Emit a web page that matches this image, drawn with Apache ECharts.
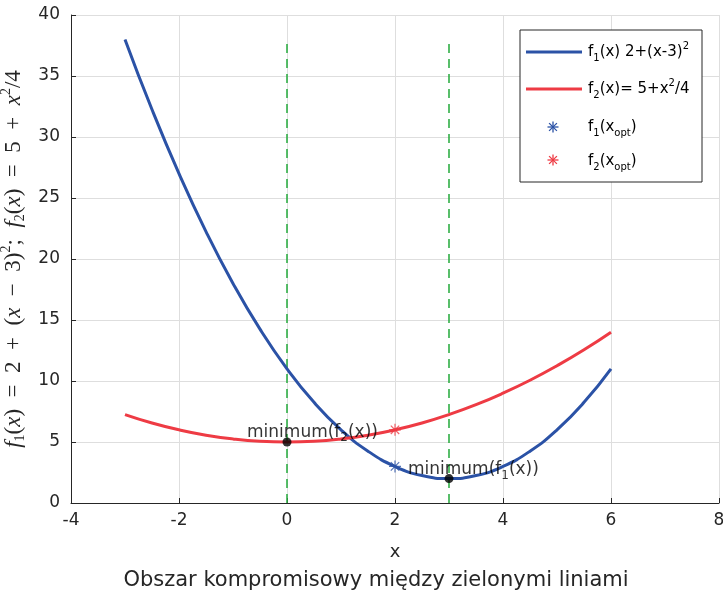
<!DOCTYPE html>
<html>
<head>
<meta charset="utf-8">
<script src="https://cdn.jsdelivr.net/npm/echarts@6/dist/echarts.min.js"></script>
<style>html,body{margin:0;padding:0;background:#fff}#c{width:723px;height:596px}</style>
</head>
<body>
<div id="c"></div>
<script>
// ---- data ----
var xs = [-3, -2.5, -2, -1.5, -1, -0.5, 0, 0.5, 1, 1.5, 2, 2.5, 3, 3.5, 4, 4.5, 5, 5.5, 6];
var f1Values = [38, 32.25, 27, 22.25, 18, 14.25, 11, 8.25, 6, 4.25, 3, 2.25, 2, 2.25, 3, 4.25, 6, 8.25, 11];
var f2Values = [7.25, 6.56, 6, 5.56, 5.25, 5.06, 5, 5.06, 5.25, 5.56, 6, 6.56, 7.25, 8.06, 9, 10.06, 11.25, 12.56, 14];
var f1Opt = [2, 3];
var f2Opt = [2, 6];
var minF1 = [3, 2];
var minF2 = [0, 5];
var boundX = [0, 3];
var boundY = [0, 38];
var minF1LabelAt = [2.24, 2.7];
var minF2LabelAt = [-0.74, 5.8];
var xTicks = [-4, 8, 2];
var yTicks = [0, 40, 5];

var BLUE = '#2b52a6', RED = '#ee3b44', GREEN = '#2fae45', AX = '#262626';
var FONT = '"DejaVu Sans", "Liberation Sans", sans-serif';
var star = 'path://M-1,-10 L1,-10 L1,10 L-1,10 Z M-10,-1 L10,-1 L10,1 L-10,1 Z M-6.3,-7.7 L7.7,6.3 L6.3,7.7 L-7.7,-6.3 Z M6.3,-7.7 L7.7,-6.3 L-6.3,7.7 L-7.7,6.3 Z';

function pairs(a, b) { return a.map(function (v, i) { return [v, b[i]]; }); }
function starGraphic(cx, cy, r, color) {
  var d = r * 0.7071;
  var st = { stroke: color, lineWidth: 1.3 };
  return { type: 'group', z: 11, children: [
    { type: 'line', shape: { x1: cx - r, y1: cy, x2: cx + r, y2: cy }, style: st, z: 11 },
    { type: 'line', shape: { x1: cx, y1: cy - r, x2: cx, y2: cy + r }, style: st, z: 11 },
    { type: 'line', shape: { x1: cx - d, y1: cy - d, x2: cx + d, y2: cy + d }, style: st, z: 11 },
    { type: 'line', shape: { x1: cx - d, y1: cy + d, x2: cx + d, y2: cy - d }, style: st, z: 11 }
  ] };
}

var richBase = {
  a: { fontSize: 17, fontFamily: FONT, color: '#000', lineHeight: 24 },
  s: { fontSize: 12, fontFamily: FONT, color: '#000', lineHeight: 10, verticalAlign: 'bottom' },
  p: { fontSize: 12, fontFamily: FONT, color: '#000', lineHeight: 10, verticalAlign: 'top' }
};
var SERIF = '"Liberation Serif", "DejaVu Serif", serif';
var richName = {
  a: { fontSize: 23, fontFamily: SERIF, fontStyle: 'italic', color: '#262626', lineHeight: 28 },
  r: { fontSize: 23, fontFamily: SERIF, color: '#262626', lineHeight: 28 },
  s: { fontSize: 14, fontFamily: SERIF, color: '#262626', lineHeight: 11, verticalAlign: 'bottom' },
  p: { fontSize: 14, fontFamily: SERIF, color: '#262626', lineHeight: 11, verticalAlign: 'top' }
};
var richLeg = {
  a: { fontSize: 15, fontFamily: FONT, color: '#000', lineHeight: 22 },
  s: { fontSize: 10, fontFamily: FONT, color: '#000', lineHeight: 9, verticalAlign: 'bottom' },
  p: { fontSize: 10, fontFamily: FONT, color: '#000', lineHeight: 9, verticalAlign: 'top' }
};

var chart = echarts.init(document.getElementById('c'));
var option = {
  animation: false,
  backgroundColor: '#fff',
  grid: { left: 71, right: 4, top: 15, bottom: 93, containLabel: false, outerBoundsMode: 'none' },
  xAxis: {
    type: 'value', min: xTicks[0], max: xTicks[1], interval: xTicks[2],
    name: 'x', nameLocation: 'middle', nameGap: 40,
    nameTextStyle: { fontSize: 18, fontFamily: FONT, color: AX },
    axisLine: { onZero: false, lineStyle: { color: AX, width: 1 } },
    axisTick: { inside: true, length: 5, lineStyle: { color: AX } },
    axisLabel: { fontSize: 17, fontFamily: FONT, color: AX, margin: 9 },
    splitLine: { show: true, lineStyle: { color: '#dedede', width: 1 } }
  },
  yAxis: {
    type: 'value', min: yTicks[0], max: yTicks[1], interval: yTicks[2],
    name: '{a|f}{s|1}{r|(}{a|x}{r|)  =  2  +  (}{a|x}{r|  −  3)}{p|2}{r|;  }{a|f}{s|2}{r|(}{a|x}{r|)  =  5  +  }{a|x}{p|2}{r|/4}',
    nameLocation: 'middle', nameGap: 33, nameRotate: 90,
    nameTextStyle: { rich: richName },
    axisLine: { show: true, onZero: false, lineStyle: { color: AX, width: 1 } },
    axisTick: { show: true, inside: true, length: 5, lineStyle: { color: AX } },
    axisLabel: { fontSize: 17, fontFamily: FONT, color: AX, margin: 11 },
    splitLine: { show: true, lineStyle: { color: '#dedede', width: 1 } }
  },
  series: [
    { type: 'line', data: pairs(xs, f1Values), smooth: true, showSymbol: false, lineStyle: { color: BLUE, width: 3 }, z: 3 },
    { type: 'line', data: pairs(xs, f2Values), smooth: true, showSymbol: false, lineStyle: { color: RED, width: 3 }, z: 3 },
    { type: 'line', data: [[boundX[0], boundY[0]], [boundX[0], boundY[1]]], showSymbol: false, lineStyle: { color: GREEN, width: 1.6, type: [9, 6] }, z: 2 },
    { type: 'line', data: [[boundX[1], boundY[0]], [boundX[1], boundY[1]]], showSymbol: false, lineStyle: { color: GREEN, width: 1.6, type: [9, 6] }, z: 2 },
    { type: 'scatter', data: [f1Opt], symbol: star, symbolSize: 12, itemStyle: { color: BLUE }, z: 5 },
    { type: 'scatter', data: [f2Opt], symbol: star, symbolSize: 12, itemStyle: { color: RED }, z: 5 },
    { type: 'scatter', data: [minF2, minF1], symbol: 'circle', symbolSize: 9, itemStyle: { color: '#000' }, z: 6 },
    { type: 'scatter', data: [minF2LabelAt], symbolSize: 0, z: 7,
      label: { show: true, position: 'right', distance: 0, formatter: '{a|minimum(f}{s|2}{a|(x))}', rich: richBase } },
    { type: 'scatter', data: [minF1LabelAt], symbolSize: 0, z: 7,
      label: { show: true, position: 'right', distance: 0, formatter: '{a|minimum(f}{s|1}{a|(x))}', rich: richBase } }
  ],
  graphic: [
    { type: 'rect', shape: { x: 520, y: 30, width: 182, height: 152 }, style: { fill: '#fff', stroke: '#262626', lineWidth: 1 }, z: 10 },
    { type: 'line', shape: { x1: 526, y1: 52, x2: 582, y2: 52 }, style: { stroke: BLUE, lineWidth: 3 }, z: 11 },
    { type: 'line', shape: { x1: 526, y1: 89, x2: 582, y2: 89 }, style: { stroke: RED, lineWidth: 3 }, z: 11 },
    starGraphic(553, 127, 5.5, BLUE),
    starGraphic(553, 160, 5.5, RED),
    { type: 'text', x: 588, y: 52, style: { text: '{a|f}{s|1}{a|(x) 2+(x-3)}{p|2}', rich: richLeg, verticalAlign: 'middle' }, z: 11 },
    { type: 'text', x: 588, y: 89, style: { text: '{a|f}{s|2}{a|(x)= 5+x}{p|2}{a|/4}', rich: richLeg, verticalAlign: 'middle' }, z: 11 },
    { type: 'text', x: 588, y: 127, style: { text: '{a|f}{s|1}{a|(x}{s|opt}{a|)}', rich: richLeg, verticalAlign: 'middle' }, z: 11 },
    { type: 'text', x: 588, y: 161, style: { text: '{a|f}{s|2}{a|(x}{s|opt}{a|)}', rich: richLeg, verticalAlign: 'middle' }, z: 11 },
    { type: 'text', x: 376, y: 581, style: { text: 'Obszar kompromisowy między zielonymi liniami', fontSize: 21, fontFamily: FONT, fill: AX, align: 'center', verticalAlign: 'middle' }, z: 11 }
  ]
};
chart.setOption(option);
</script>
</body>
</html>
